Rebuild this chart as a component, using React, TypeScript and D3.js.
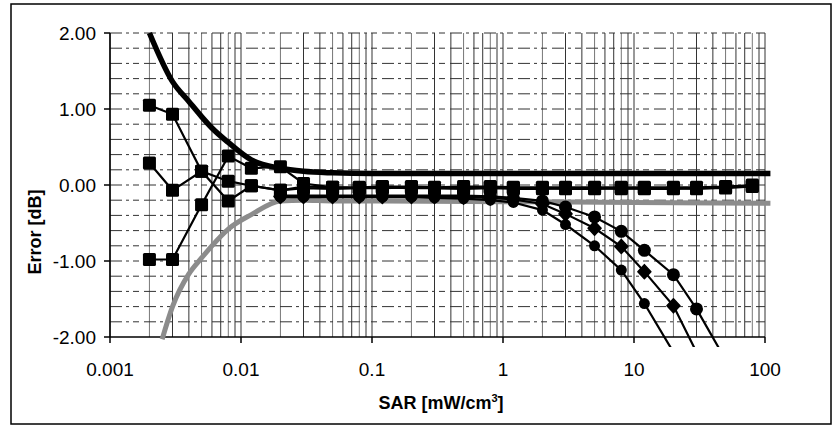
import React, { useEffect, useRef } from 'react';
import * as d3 from 'd3';

const squareX = [0.002, 0.003, 0.005, 0.008, 0.012, 0.02, 0.03, 0.05, 0.08, 0.12, 0.2, 0.3, 0.5, 0.8, 1.2, 2, 3, 5, 8, 12, 20, 30, 50, 80];
const squareA = [1.05, 0.93, 0.18, -0.21, -0.01, -0.07, -0.04, -0.05, -0.04, -0.04, -0.03, -0.04, -0.04, -0.03, -0.04, -0.04, -0.05, -0.05, -0.04, -0.05, -0.05, -0.04, -0.04, -0.02];
const squareB = [0.29, -0.07, 0.18, 0.05, -0.01, -0.07, -0.02, -0.03, -0.03, -0.02, -0.02, -0.03, -0.02, -0.02, -0.03, -0.03, -0.03, -0.03, -0.03, -0.03, -0.03, -0.03, -0.02, 0.0];
const squareC = [-0.98, -0.98, -0.26, 0.38, 0.22, 0.24, 0.02, -0.03, -0.04, -0.03, -0.04, -0.04, -0.05, -0.04, -0.05, -0.05, -0.04, -0.04, -0.05, -0.04, -0.04, -0.05, -0.03, -0.01];

const dropX = [0.02, 0.03, 0.05, 0.08, 0.12, 0.2, 0.3, 0.5, 0.8, 1.2, 2, 3, 5, 8, 12, 20, 30, 50];
const dropTop = [-0.14, -0.14, -0.14, -0.14, -0.14, -0.14, -0.14, -0.14, -0.15, -0.17, -0.21, -0.29, -0.42, -0.61, -0.86, -1.18, -1.63, -2.3];
const dropMid = [-0.15, -0.15, -0.15, -0.15, -0.15, -0.15, -0.15, -0.16, -0.17, -0.19, -0.25, -0.38, -0.57, -0.81, -1.14, -1.59, -2.2, null];
const dropLow = [-0.16, -0.16, -0.16, -0.16, -0.16, -0.16, -0.17, -0.18, -0.2, -0.23, -0.33, -0.52, -0.8, -1.12, -1.56, -2.2, null, null];

const upperX = [0.002, 0.003, 0.004, 0.005, 0.006, 0.008, 0.012, 0.02, 0.03, 0.05, 0.1, 1, 10, 110];
const upperY = [2.0, 1.36, 1.1, 0.9, 0.75, 0.56, 0.33, 0.22, 0.18, 0.16, 0.15, 0.15, 0.15, 0.15];
const lowerX = [0.0025, 0.003, 0.004, 0.005, 0.006, 0.008, 0.012, 0.02, 0.03, 0.05, 0.1, 1, 10, 110];
const lowerY = [-2.03, -1.6, -1.17, -0.96, -0.8, -0.58, -0.39, -0.21, -0.2, -0.21, -0.21, -0.22, -0.23, -0.24];

const xTicks = [0.001, 0.01, 0.1, 1, 10, 100];
const xTickLabels = ['0.001', '0.01', '0.1', '1', '10', '100'];
const yTicks = [-2, -1, 0, 1, 2];

const W = 840;
const H = 427;
const FONT = '"Liberation Sans", Arial, sans-serif';

const App: React.FC = () => {
  const svgRef = useRef<SVGSVGElement>(null);

  useEffect(() => {
    document.body.style.margin = '0';
    if (!svgRef.current) return;
    const svg = d3.select(svgRef.current);
    svg.selectAll('*').remove();

    const x = d3.scaleLog().domain([0.001, 100]).range([110, 765]);
    const y = d3.scaleLinear().domain([-2, 2]).range([337, 33]);

    // outer frame
    svg.append('rect')
      .attr('x', 11).attr('y', 4).attr('width', 820).attr('height', 420)
      .attr('fill', '#fff').attr('stroke', '#000').attr('stroke-width', 1.5);

    // vertical grid: every 1..9 of each decade
    const vGrid: number[] = [];
    [0.001, 0.01, 0.1, 1, 10].forEach(d => {
      for (let k = 1; k <= 9; k++) vGrid.push(d * k);
    });
    vGrid.push(100);
    svg.append('g').selectAll('line')
      .data(vGrid)
      .enter()
      .append('line')
      .attr('x1', d => x(d)).attr('x2', d => x(d))
      .attr('y1', y(2)).attr('y2', y(-2))
      .attr('stroke', (d, i) => (i % 3 === 1 ? '#777' : '#333'))
      .attr('stroke-width', 1);

    // horizontal grid every 0.2, broken dash-dot
    const hGrid = d3.range(-1.8, 2.01, 0.2).map(v => +v.toFixed(1));
    svg.append('g').selectAll('line')
      .data(hGrid)
      .enter()
      .append('line')
      .attr('x1', x(0.001)).attr('x2', x(100))
      .attr('y1', d => y(d)).attr('y2', d => y(d))
      .attr('stroke', '#333')
      .attr('stroke-width', 1)
      .attr('stroke-dasharray', '12,4,3,4,6,5');

    // axes
    svg.append('line')
      .attr('x1', x(0.001)).attr('x2', x(0.001)).attr('y1', y(2)).attr('y2', y(-2))
      .attr('stroke', '#000').attr('stroke-width', 1.5);
    svg.append('line')
      .attr('x1', x(0.001)).attr('x2', x(100)).attr('y1', y(-2)).attr('y2', y(-2))
      .attr('stroke', '#000').attr('stroke-width', 1.5);
    svg.append('g').selectAll('line')
      .data(yTicks)
      .enter()
      .append('line')
      .attr('x1', x(0.001) - 6).attr('x2', x(0.001))
      .attr('y1', d => y(d)).attr('y2', d => y(d))
      .attr('stroke', '#000').attr('stroke-width', 1.5);
    svg.append('g').selectAll('line')
      .data(xTicks)
      .enter()
      .append('line')
      .attr('x1', d => x(d)).attr('x2', d => x(d))
      .attr('y1', y(-2)).attr('y2', y(-2) + 6)
      .attr('stroke', '#000').attr('stroke-width', 1.5);

    // tick labels
    svg.append('g').selectAll('text')
      .data(yTicks)
      .enter()
      .append('text')
      .attr('x', 96)
      .attr('y', d => y(d))
      .attr('text-anchor', 'end')
      .attr('dominant-baseline', 'central')
      .attr('font-family', FONT)
      .attr('font-size', 19)
      .text(d => d.toFixed(2));
    svg.append('g').selectAll('text')
      .data(xTicks)
      .enter()
      .append('text')
      .attr('x', d => x(d))
      .attr('y', 376)
      .attr('text-anchor', 'middle')
      .attr('font-family', FONT)
      .attr('font-size', 19)
      .text((d, i) => xTickLabels[i]);

    // axis titles
    const xt = svg.append('text')
      .attr('x', 441).attr('y', 409)
      .attr('text-anchor', 'middle')
      .attr('font-family', FONT)
      .attr('font-size', 18)
      .attr('font-weight', 'bold');
    xt.append('tspan').text('SAR [mW/cm');
    xt.append('tspan').attr('font-size', 11).attr('dy', -7).text('3');
    xt.append('tspan').attr('dy', 7).text(']');

    svg.append('text')
      .attr('transform', 'translate(41,232) rotate(-90)')
      .attr('text-anchor', 'middle')
      .attr('font-family', FONT)
      .attr('font-size', 18)
      .attr('font-weight', 'bold')
      .text('Error [dB]');

    // clip for series lines (Excel lets them run a little past the axis)
    svg.append('clipPath').attr('id', 'plotClip')
      .append('rect').attr('x', 105).attr('y', 31).attr('width', 667).attr('height', 316);

    const plot = svg.append('g').attr('clip-path', 'url(#plotClip)');

    type Pt = [number, number | null];
    const zip = (xs: number[], ys: (number | null)[]): Pt[] => xs.map((v, i) => [v, ys[i]] as Pt);
    const line = d3.line<Pt>()
      .defined(d => d[1] !== null)
      .x(d => x(d[0]))
      .y(d => y(d[1] as number));
    const smooth = d3.line<Pt>()
      .x(d => x(d[0]))
      .y(d => y(d[1] as number))
      .curve(d3.curveMonotoneX);

    // thick reference curves
    plot.append('path')
      .attr('d', smooth(zip(lowerX, lowerY)))
      .attr('fill', 'none').attr('stroke', '#8c8c8c').attr('stroke-width', 5);
    plot.append('path')
      .attr('d', smooth(zip(upperX, upperY)))
      .attr('fill', 'none').attr('stroke', '#000').attr('stroke-width', 5.5);

    // falling series
    [dropTop, dropMid, dropLow].forEach(ys => {
      plot.append('path')
        .attr('d', line(zip(dropX, ys)))
        .attr('fill', 'none').attr('stroke', '#000').attr('stroke-width', 2.2);
    });

    // square series lines
    [squareA, squareB, squareC].forEach(ys => {
      plot.append('path')
        .attr('d', line(zip(squareX, ys)))
        .attr('fill', 'none').attr('stroke', '#000').attr('stroke-width', 2.2);
    });

    const inRange = (d: Pt) => d[1] !== null && (d[1] as number) >= -2.05;

    // markers for falling series
    plot.append('g').selectAll('circle')
      .data(zip(dropX, dropTop).filter(inRange))
      .enter().append('circle')
      .attr('cx', d => x(d[0])).attr('cy', d => y(d[1] as number))
      .attr('r', 6.5).attr('fill', '#000');
    plot.append('g').selectAll('path')
      .data(zip(dropX, dropMid).filter(inRange))
      .enter().append('path')
      .attr('transform', d => `translate(${x(d[0])},${y(d[1] as number)})`)
      .attr('d', 'M0,-7L6.5,0L0,7L-6.5,0Z')
      .attr('fill', '#000')
      .attr('stroke', '#000').attr('stroke-width', 1.5).attr('stroke-linejoin', 'round');
    plot.append('g').selectAll('circle')
      .data(zip(dropX, dropLow).filter(inRange))
      .enter().append('circle')
      .attr('cx', d => x(d[0])).attr('cy', d => y(d[1] as number))
      .attr('r', 5.5).attr('fill', '#000');

    // square markers
    [squareA, squareB, squareC].forEach(ys => {
      plot.append('g').selectAll('rect')
        .data(zip(squareX, ys))
        .enter().append('rect')
        .attr('x', d => x(d[0]) - 6.5).attr('y', d => y(d[1] as number) - 6.5)
        .attr('width', 13).attr('height', 13).attr('rx', 1.5)
        .attr('fill', '#000');
    });
  }, []);

  return (
    <svg ref={svgRef} width={W} height={H} style={{ display: 'block', background: '#fff' }} />
  );
};

export default App;
